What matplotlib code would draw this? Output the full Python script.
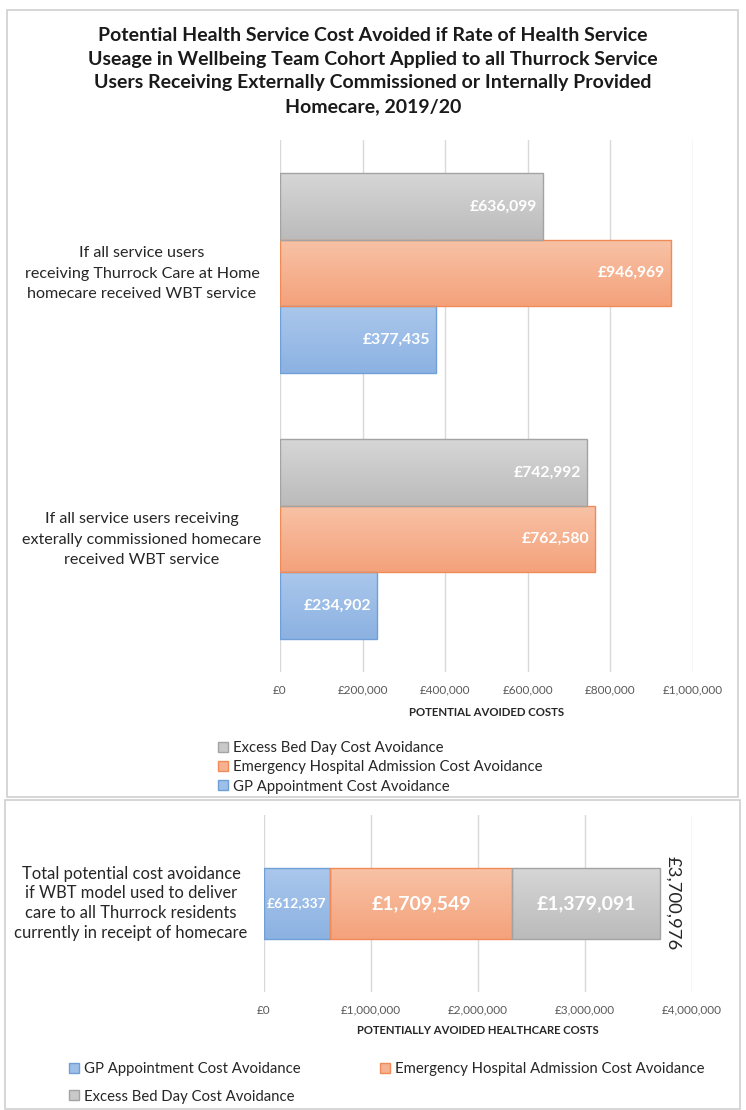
import matplotlib.pyplot as plt
import matplotlib.patches as mpatches
from matplotlib.colors import LinearSegmentedColormap
import numpy as np

plt.rcParams['font.family'] = ['Lato', 'DejaVu Sans']

# top chart data
groups = ['If all service users\nreceiving Thurrock Care at Home\nhomecare received WBT service',
          'If all service users receiving\nexterally commissioned homecare\nreceived WBT service']
gp = [377435, 234902]
emergency = [946969, 762580]
bedday = [636099, 742992]

# bottom chart data
total_label = 'Total potential cost avoidance\nif WBT model used to deliver\ncare to all Thurrock residents\ncurrently in receipt of homecare'
total_gp = 612337
total_emergency = 1709549
total_bedday = 1379091
grand_total = 3700976   # as printed on the chart

series_names = ['GP Appointment Cost Avoidance',
                'Emergency Hospital Admission Cost Avoidance',
                'Excess Bed Day Cost Avoidance']
# (top, bottom) of the gradient fill, edge colour
grad = {'gp': ('#aac7ec', '#8cb2e2'), 'em': ('#f8c2a6', '#f4a27b'), 'bd': ('#d6d6d6', '#bbbbbb')}
edge = {'gp': '#6f9fd6', 'em': '#f08b58', 'bd': '#a3a3a3'}
mid = {'gp': '#9ebfe8', 'em': '#f5b191', 'bd': '#c9c9c9'}
grid_c = '#d9d9d9'
tick_c = '#595959'
txt_c = '#262626'


def grad_fill(ax, bars, key):
    cmap = LinearSegmentedColormap.from_list(key, [grad[key][1], grad[key][0]])
    for bar in bars:
        x0, y0 = bar.get_x(), bar.get_y()
        im = ax.imshow(np.linspace(0, 1, 64).reshape(-1, 1), cmap=cmap, aspect='auto',
                       origin='lower', interpolation='bilinear', zorder=3,
                       extent=[x0, x0 + bar.get_width(), y0, y0 + bar.get_height()])
        im.set_clip_path(bar)


fig = plt.figure(figsize=(7.46, 11.10), dpi=100)

# panel borders
fig.patches.append(mpatches.Rectangle((7/746, 1-797/1110), 731/746, 787/1110,
                   transform=fig.transFigure, fill=False, ec='#d0d0d0', lw=1.2))
fig.patches.append(mpatches.Rectangle((5/746, 0.001), 735/746, 1-801/1110,
                   transform=fig.transFigure, fill=False, ec='#d0d0d0', lw=1.2))

fig.text(0.5, 1-71/1110,
         'Potential Health Service Cost Avoided if Rate of Health Service\n'
         'Useage in Wellbeing Team Cohort Applied to all Thurrock Service\n'
         'Users Receiving Externally Commissioned or Internally Provided\n'
         'Homecare, 2019/20',
         ha='center', va='center', fontsize=14, fontweight='bold',
         color='#1a1a1a', linespacing=1.47)

# ---- top chart
ax = fig.add_axes([280/746, 1-672/1110, 413/746, 532/1110])
y = np.array([1, 0])
h = 0.25
b1 = ax.barh(y - h, gp, h, facecolor='none', edgecolor=edge['gp'], lw=1, zorder=4)
b2 = ax.barh(y, emergency, h, facecolor='none', edgecolor=edge['em'], lw=1, zorder=4)
b3 = ax.barh(y + h, bedday, h, facecolor='none', edgecolor=edge['bd'], lw=1, zorder=4)
grad_fill(ax, b1, 'gp')
grad_fill(ax, b2, 'em')
grad_fill(ax, b3, 'bd')
for bars, vals in [(b1, gp), (b2, emergency), (b3, bedday)]:
    for bar, v in zip(bars, vals):
        ax.text(v - 14000, bar.get_y() + bar.get_height()/2, '£{:,}'.format(v),
                ha='right', va='center', color='white', fontsize=11.3,
                fontweight='bold', zorder=5)
ax.set_xlim(0, 1000000)
ax.set_ylim(-0.5, 1.5)
ax.set_xticks(np.arange(0, 1000001, 200000))
ax.set_xticklabels(['£{:,}'.format(int(t)) for t in ax.get_xticks()])
ax.set_yticks(y + 0.015)
ax.set_yticklabels(groups, ha='center', fontsize=11.6, color=txt_c, linespacing=1.55)
ax.tick_params(axis='y', length=0, pad=(280-142)*0.72)
ax.tick_params(axis='x', length=0, pad=9, labelsize=8.5, labelcolor=tick_c)
ax.grid(axis='x', color=grid_c, lw=1, zorder=0)
for s in ax.spines.values():
    s.set_visible(False)
ax.set_xlabel('POTENTIAL AVOIDED COSTS', fontsize=8.2, fontweight='bold',
              color=txt_c, labelpad=8)
hand = [mpatches.Patch(facecolor=mid[k], edgecolor=edge[k]) for k in ['gp', 'em', 'bd']]
ax.legend(hand[::-1], series_names[::-1], loc='upper left',
          bbox_to_anchor=(211/746, 1-734/1110), bbox_transform=fig.transFigure,
          frameon=False, fontsize=10.7, handlelength=0.65, handleheight=0.65,
          handletextpad=0.3, labelspacing=0.34, borderpad=0, labelcolor=txt_c)

# ---- bottom chart
ax2 = fig.add_axes([264/746, 1-992/1110, 428/746, 177/1110])
hb = 0.4
c1 = ax2.barh([0], [total_gp], hb, facecolor='none', edgecolor=edge['gp'], lw=1, zorder=4)
c2 = ax2.barh([0], [total_emergency], hb, left=[total_gp], facecolor='none',
              edgecolor=edge['em'], lw=1, zorder=4)
c3 = ax2.barh([0], [total_bedday], hb, left=[total_gp + total_emergency],
              facecolor='none', edgecolor=edge['bd'], lw=1, zorder=4)
grad_fill(ax2, c1, 'gp')
grad_fill(ax2, c2, 'em')
grad_fill(ax2, c3, 'bd')
ax2.text(total_gp/2, 0, '£{:,}'.format(total_gp), ha='center', va='center',
         color='white', fontsize=10, fontweight='bold', zorder=5)
ax2.text(total_gp + total_emergency/2, 0, '£{:,}'.format(total_emergency),
         ha='center', va='center', color='white', fontsize=14, fontweight='bold', zorder=5)
ax2.text(total_gp + total_emergency + total_bedday/2, 0, '£{:,}'.format(total_bedday),
         ha='center', va='center', color='white', fontsize=14, fontweight='bold', zorder=5)
ax2.text(total_gp + total_emergency + total_bedday + 50000, 0, '£{:,}'.format(grand_total),
         rotation=270, ha='left', va='center', fontsize=13.3, color=txt_c, zorder=5)
ax2.set_xlim(0, 4000000)
ax2.set_ylim(-0.5, 0.5)
ax2.set_xticks(np.arange(0, 4000001, 1000000))
ax2.set_xticklabels(['£{:,}'.format(int(t)) for t in ax2.get_xticks()])
ax2.set_yticks([0.02])
ax2.set_yticklabels([total_label], ha='center', fontsize=11.9, color=txt_c, linespacing=1.3)
ax2.tick_params(axis='y', length=0, pad=(264-131)*0.72)
ax2.tick_params(axis='x', length=0, pad=9, labelsize=8.5, labelcolor=tick_c)
ax2.grid(axis='x', color=grid_c, lw=1, zorder=0)
for s in ax2.spines.values():
    s.set_visible(False)
ax2.set_xlabel('POTENTIALLY AVOIDED HEALTHCARE COSTS', fontsize=8.1, fontweight='bold',
               color=txt_c, labelpad=7)
# two-column legend, filled column by column: GP, Excess | Emergency
ax2.legend([hand[0], hand[2], hand[1]], [series_names[0], series_names[2], series_names[1]],
           loc='upper left', ncol=2,
           bbox_to_anchor=(62/746, 1-1055/1110), bbox_transform=fig.transFigure,
           frameon=False, fontsize=10.7, handlelength=0.65, handleheight=0.65,
           handletextpad=0.3, labelspacing=0.88, columnspacing=5.4, borderpad=0,
           labelcolor=txt_c)

fig.savefig('out.png', dpi=100)
